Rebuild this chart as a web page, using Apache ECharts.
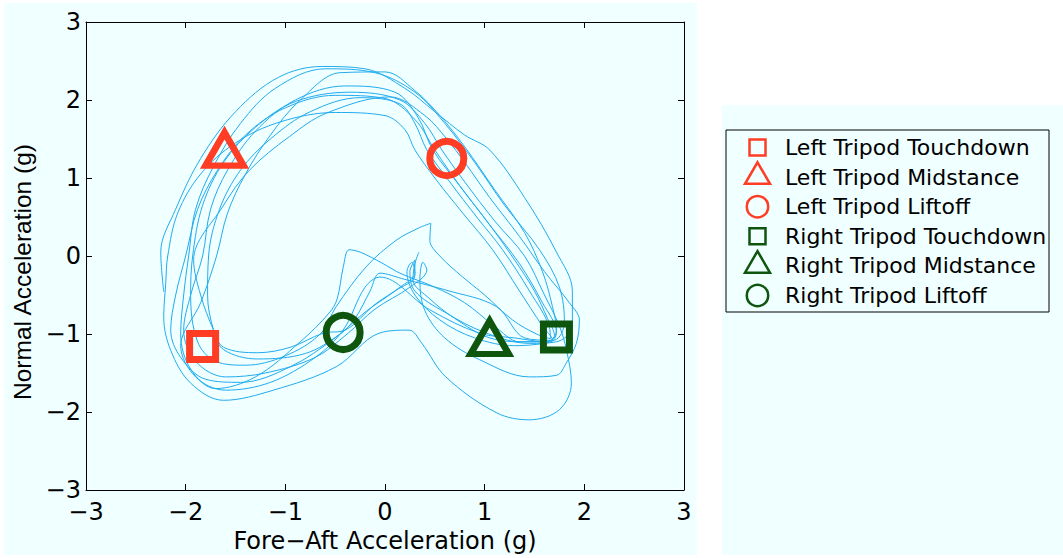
<!DOCTYPE html>
<html>
<head>
<meta charset="utf-8">
<script src="https://cdn.jsdelivr.net/npm/echarts@6/dist/echarts.min.js"></script>
<style>
  html, body { margin: 0; padding: 0; background: #ffffff; }
  #chart { width: 1063px; height: 558px; }
</style>
</head>
<body>
<div id="chart"></div>
<script>
// Axis ticks (g)
const xTicks = [-3, -2, -1, 0, 1, 2, 3];
const yTicks = [-3, -2, -1, 0, 1, 2, 3];

// Body acceleration trajectory, one stride cycle per array: [fore-aft, normal] in g
const cycle1 = [[-2.22,-0.46],[-2.25,0.05],[-2.1,0.6],[-1.85,1.25],[-1.5,1.85],[-1.07,2.29],[-0.63,2.43],[-0.2,2.4],[0.2,2.15],[0.5,1.85],[0.8,1.55],[1.05,1.36],[1.4,0.75],[1.72,0.05],[1.88,-0.45],[1.88,-0.9],[1.72,-1.1],[1.45,-1.12],[1.0,-0.98],[0.6,-0.72],[0.3,-0.45],[0.25,-0.2],[0.3,-0.05],[0.3,-0.25],[0.1,-0.45],[-0.2,-0.72],[-0.5,-1.05],[-0.95,-1.42],[-1.45,-1.62],[-1.8,-1.58],[-2.05,-1.3],[-2.15,-0.95]];
const cycle2 = [[-2.1,-0.5],[-2.0,0.0],[-1.88,0.6],[-1.68,1.1],[-1.4,1.55],[-1.0,1.9],[-0.5,2.06],[0.0,2.02],[0.3,1.75],[0.5,1.36],[0.75,0.9],[1.05,0.4],[1.3,-0.05],[1.5,-0.45],[1.63,-0.8],[1.7,-1.02],[1.62,-1.1],[1.3,-1.05],[0.95,-0.99],[0.45,-0.69],[-0.05,-0.27],[-0.2,-0.4],[-0.42,-0.95],[-0.7,-1.3],[-1.15,-1.62],[-1.6,-1.72],[-1.9,-1.55],[-2.05,-1.15]];
const cycle3 = [[-1.85,-0.6],[-1.69,0.0],[-1.58,0.55],[-1.4,1.05],[-1.15,1.55],[-0.85,2.0],[-0.45,2.35],[0.0,2.36],[0.3,2.12],[0.55,1.8],[0.8,1.4],[1.1,0.85],[1.4,0.3],[1.58,-0.2],[1.68,-0.65],[1.72,-0.95],[1.66,-1.08],[1.4,-1.05],[1.12,-0.65],[0.62,-0.44],[0.2,-0.3],[-0.05,-0.22],[-0.15,-0.45],[-0.3,-0.8],[-0.45,-1.0],[-0.8,-1.25],[-1.28,-1.32],[-1.62,-1.2],[-1.72,-0.95]];
const cycle4 = [[-1.78,-0.5],[-1.77,0.0],[-1.66,0.6],[-1.45,1.1],[-1.15,1.5],[-0.75,1.85],[-0.25,2.03],[0.15,1.95],[0.3,1.7],[0.42,1.36],[0.65,0.95],[0.92,0.5],[1.18,0.08],[1.45,-0.45],[1.65,-0.92],[1.66,-1.06],[1.52,-1.0],[1.28,-0.82],[1.0,-0.5],[0.78,-0.27],[0.55,0.0],[0.45,0.2],[0.46,0.42],[0.34,0.36],[0.11,0.2],[-0.19,-0.14],[-0.49,-0.65],[-0.65,-1.0],[-1.0,-1.28],[-1.4,-1.4],[-1.7,-1.35],[-1.88,-1.1]];
const cycle5 = [[-1.95,-0.5],[-1.93,0.0],[-1.83,0.65],[-1.62,1.2],[-1.3,1.65],[-0.9,1.98],[-0.35,2.1],[0.15,2.0],[0.4,1.7],[0.57,1.36],[0.8,0.95],[1.1,0.45],[1.4,0.0],[1.6,-0.5],[1.75,-0.9],[1.82,-1.2],[1.87,-1.63],[1.75,-1.97],[1.45,-2.1],[1.12,-2.01],[0.61,-1.55],[0.37,-1.12],[0.24,-0.95],[-0.06,-0.99],[-0.49,-1.42],[-1.12,-1.72],[-1.62,-1.85],[-1.95,-1.63],[-2.15,-1.21],[-2.22,-0.78]];
const cycle6 = [[-2.2,-0.35],[-2.18,0.0],[-2.08,0.55],[-1.85,1.05],[-1.5,1.45],[-1.05,1.72],[-0.5,1.84],[0.0,1.8],[0.2,1.62],[0.3,1.36],[0.5,1.0],[0.78,0.55],[1.08,0.08],[1.35,-0.45],[1.58,-0.9],[1.68,-1.08],[1.6,-1.12],[1.3,-1.15],[0.9,-1.05],[0.55,-0.82],[0.3,-0.5],[0.22,-0.2],[0.27,-0.08],[0.3,-0.22],[0.15,-0.4],[-0.1,-0.62],[-0.4,-0.95],[-0.62,-0.99],[-0.95,-1.17],[-1.28,-1.24],[-1.62,-1.17],[-1.72,-0.95]];
const cycle7 = [[-1.85,-0.5],[-1.92,-0.05],[-1.63,0.63],[-1.36,1.1],[-0.96,1.53],[-0.59,1.83],[0.05,2.04],[0.4,1.8],[0.62,1.5],[0.8,1.2],[1.05,0.75],[1.35,0.25],[1.6,-0.2],[1.85,-0.6],[1.95,-0.82],[1.92,-1.12],[1.82,-1.37],[1.72,-1.53],[1.45,-1.55],[0.95,-1.33],[0.6,-1.05],[0.4,-0.7],[0.35,-0.3],[0.38,-0.08],[0.42,-0.18],[0.25,-0.4],[-0.1,-0.68],[-0.38,-1.0],[-0.7,-1.3],[-1.2,-1.5],[-1.6,-1.55],[-1.9,-1.35],[-2.02,-0.95]];
const cycle8 = [[-1.95,-0.5],[-1.83,0.0],[-1.75,0.6],[-1.58,1.1],[-1.3,1.6],[-0.9,2.0],[-0.4,2.18],[0.1,2.1],[0.33,1.78],[0.48,1.36],[0.75,0.9],[1.05,0.4],[1.35,-0.1],[1.58,-0.6],[1.72,-0.98],[1.66,-1.1],[1.35,-1.1],[1.1,-0.9],[0.8,-0.6],[0.5,-0.4],[0.15,-0.22],[-0.03,-0.09],[-0.25,0.05],[-0.36,0.08],[-0.42,-0.15],[-0.48,-0.55],[-0.56,-0.73],[-0.85,-1.1],[-1.3,-1.55],[-1.7,-1.7],[-1.95,-1.45],[-2.05,-1.0]];
const cycle9 = [[-2.02,-0.5],[-1.97,0.0],[-1.9,0.6],[-1.72,1.15],[-1.45,1.7],[-1.1,2.15],[-0.6,2.4],[-0.1,2.35],[0.3,2.1],[0.6,1.7],[0.9,1.2],[1.2,0.65],[1.55,0.08],[1.75,-0.4],[1.8,-0.85],[1.7,-1.08],[1.42,-1.1],[1.05,-1.05],[0.7,-0.8],[0.45,-0.55],[0.28,-0.3],[0.3,-0.1],[0.34,0.05]];

// Gait events: names and mean acceleration (g)
const eventNames = ['Left Tripod Touchdown', 'Left Tripod Midstance', 'Left Tripod Liftoff',
                    'Right Tripod Touchdown', 'Right Tripod Midstance', 'Right Tripod Liftoff'];
const eventX = [-1.83, -1.61, 0.62, 1.72, 1.05, -0.42];
const eventY = [-1.16, 1.37, 1.25, -1.04, -1.045, -0.98];

const trajectory = [].concat(cycle1, cycle2, cycle3, cycle4, cycle5, cycle6, cycle7, cycle8, cycle9);

const RED = '#ff3c24';
const GREEN = '#0e550e';
const CURVE = '#22abee';
const PANEL = '#f0ffff';
const FONT = 'DejaVu Sans';

const markerStyle = [
  { symbol: 'rect', size: 26, color: RED },
  { symbol: 'triangle', size: [38, 33], color: RED },
  { symbol: 'circle', size: 34, color: RED },
  { symbol: 'rect', size: 26, color: GREEN },
  { symbol: 'triangle', size: [38, 33], color: GREEN },
  { symbol: 'circle', size: 34, color: GREEN }
];

const minusFmt = v => String(v).replace('-', '\u2212');

const axisCommon = {
  type: 'value',
  min: xTicks[0],
  max: xTicks[xTicks.length - 1],
  interval: 1,
  axisLine: { show: true, onZero: false, lineStyle: { color: '#000', width: 1 } },
  axisTick: { show: true, inside: true, length: 6, lineStyle: { color: '#000', width: 1 } },
  splitLine: { show: false }
};

const series = [{
  type: 'line',
  data: trajectory,
  smooth: 0.35,
  showSymbol: false,
  symbol: 'none',
  lineStyle: { color: CURVE, width: 1 },
  silent: true,
  z: 2
}];
eventNames.forEach((name, i) => {
  series.push({
    type: 'scatter',
    name: name,
    data: [[eventX[i], eventY[i]]],
    symbol: markerStyle[i].symbol,
    symbolSize: markerStyle[i].size,
    itemStyle: {
      color: 'rgba(0,0,0,0)',
      borderColor: markerStyle[i].color,
      borderWidth: markerStyle[i].symbol === 'triangle' ? 6.5 : 7,
      borderJoin: 'miter',
      borderMiterLimit: 10,
      opacity: 1
    },
    silent: true,
    z: 5
  });
});

// Legend drawn as a boxed list of marker + label rows
const legendX = 726, legendY = 130, legendW = 323, legendH = 182;
const rowStep = 29.6, rowTop = 147.5;
const legendEls = [{
  type: 'rect',
  shape: { x: legendX, y: legendY, width: legendW, height: legendH },
  style: { fill: PANEL, stroke: '#000', lineWidth: 1 },
  z: 50
}];
eventNames.forEach((name, i) => {
  const cy = rowTop + rowStep * i;
  const cx = 757.5;
  const col = markerStyle[i].color;
  const st = { fill: 'none', stroke: col, lineWidth: 2.5, lineJoin: 'miter' };
  if (markerStyle[i].symbol === 'rect') {
    legendEls.push({ type: 'rect', shape: { x: cx - 8, y: cy - 8, width: 16, height: 16 }, style: st, z: 51 });
  } else if (markerStyle[i].symbol === 'triangle') {
    const ty = cy - 4;
    legendEls.push({ type: 'polygon', shape: { points: [[cx, ty - 10.75], [cx + 12.5, ty + 10.75], [cx - 12.5, ty + 10.75]] }, style: st, z: 51 });
  } else {
    legendEls.push({ type: 'circle', shape: { cx: cx, cy: cy, r: 10.7 }, style: st, z: 51 });
  }
  legendEls.push({
    type: 'text',
    x: 785, y: cy,
    style: { text: name, fill: '#000', font: '22px "' + FONT + '"', align: 'left', verticalAlign: 'middle' },
    z: 51
  });
});

const option = {
  backgroundColor: '#ffffff',
  animation: false,
  grid: { left: 86, right: 379, top: 22, bottom: 68, containLabel: false, outerBoundsMode: 'none' },
  xAxis: [
    Object.assign({}, axisCommon, {
      position: 'bottom',
      axisLabel: { formatter: minusFmt, color: '#000', fontFamily: FONT, fontSize: 24, margin: 10 },
      name: 'Fore\u2212Aft Acceleration (g)',
      nameLocation: 'middle',
      nameGap: 37,
      nameTextStyle: { color: '#000', fontFamily: FONT, fontSize: 24 }
    }),
    Object.assign({}, axisCommon, { position: 'top', axisLabel: { show: false } })
  ],
  yAxis: [
    Object.assign({}, axisCommon, {
      min: yTicks[0], max: yTicks[yTicks.length - 1],
      position: 'left',
      axisLabel: { formatter: minusFmt, color: '#000', fontFamily: FONT, fontSize: 24, margin: 5 },
      name: 'Normal Acceleration (g)',
      nameLocation: 'middle',
      nameRotate: 90,
      nameGap: 44,
      nameTextStyle: { color: '#000', fontFamily: 'Liberation Sans', fontSize: 24.5, padding: [0, 32, 0, 0] }
    }),
    Object.assign({}, axisCommon, {
      min: yTicks[0], max: yTicks[yTicks.length - 1],
      position: 'right', axisLabel: { show: false }
    })
  ],
  graphic: {
    elements: [
      { type: 'rect', shape: { x: 4, y: 3, width: 693, height: 552 }, style: { fill: PANEL }, z: -10, silent: true },
      { type: 'rect', shape: { x: 722, y: 105, width: 341, height: 450 }, style: { fill: PANEL }, z: -10, silent: true }
    ].concat(legendEls)
  },
  series: series
};

const chart = echarts.init(document.getElementById('chart'), null, { renderer: 'svg' });
chart.setOption(option);
</script>
</body>
</html>
